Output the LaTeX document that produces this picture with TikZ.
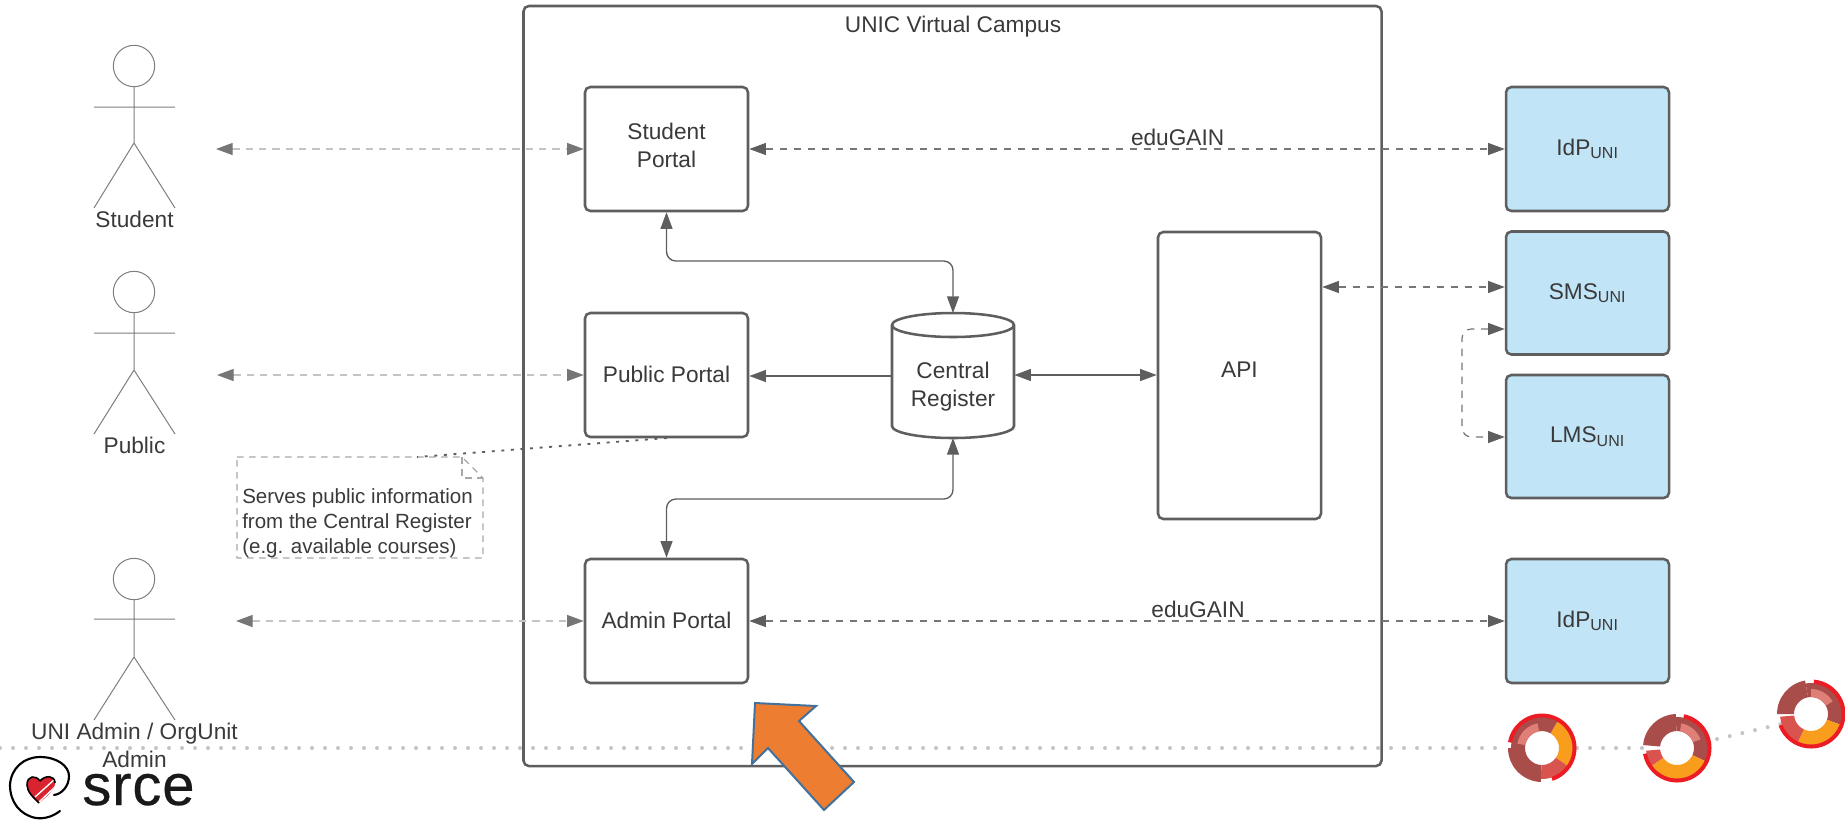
\documentclass[tikz,border=0pt]{standalone}
\usepackage{fontspec}
\setmainfont{Liberation Sans}
\usetikzlibrary{arrows.meta,positioning,calc}
\definecolor{ln}{HTML}{5E5E5E}
\definecolor{tx}{HTML}{3A3A3A}
\definecolor{lb}{HTML}{C1E4F7}
\definecolor{ga}{HTML}{C4C4C4}
\definecolor{da}{HTML}{A94D4B}
\definecolor{me}{HTML}{D9534F}
\definecolor{sa}{HTML}{E07F78}
\definecolor{og}{HTML}{F99D1C}
\definecolor{rd}{HTML}{EC1C24}
\definecolor{oa}{RGB}{237,125,49}
\definecolor{ob}{RGB}{65,113,156}
\definecolor{hr}{HTML}{D9232E}
\newcommand{\px}[1]{\fontsize{#1}{#1}\selectfont}
\newcommand{\seg}[5]{\fill[#5] (#1:#4) arc[start angle=#1,end angle=#2,radius=#4] -- (#2:#3) arc[start angle=#2,end angle=#1,radius=#3] -- cycle;}
\newcommand{\two}[3]{\raisebox{#1}{\begin{tabular}{@{}c@{}}#2\\[3.5pt]#3\end{tabular}}}
\tikzset{
  x=0.75pt,y=-0.75pt,
  every node/.style={text=tx,font=\px{17}},
  pbox/.style={draw=ln,line width=1.9pt,rounded corners=4pt,fill=white,align=center,inner sep=0pt},
  ubox/.style={pbox,fill=lb},
  tip/.tip={Triangle[length=12.5pt,width=9pt]},
  bi/.style={tip-tip,draw=ln,line width=1pt,rounded corners=7pt},
  one/.style={-tip,draw=ln,line width=1pt},
  da1/.style={bi,draw=ln!85,line width=.9pt,dash pattern=on 5.5pt off 5pt,{Triangle[length=12.5pt,width=9pt,ln]}-{Triangle[length=12.5pt,width=9pt,ln]}},
  da2/.style={draw=ga,line width=1pt,dash pattern=on 5.5pt off 4.5pt,{Triangle[length=12.5pt,width=9pt,ln!85]}-{Triangle[length=12.5pt,width=9pt,ln!85]}},
  actor/.style={draw=ln!80,line width=0.75pt},
  dots/.style={draw=ga,line width=3pt,line cap=round,dash pattern=on 0pt off 9.75pt},
  nt/.style={draw=ga!85!black,line width=1pt,dash pattern=on 5pt off 4pt},
}
\newcommand{\boxat}[7][pbox]{\node[#1,minimum width=#6*0.75pt,minimum height=#7*0.75pt] (#2) at (#4,#5) {#3};}
\begin{document}
\begin{tikzpicture}
\useasboundingbox (0,0) rectangle (1845,819);
% dotted line
\coordinate (d0) at (0,748);
\coordinate (d1) at (1507,748);
\coordinate (d2) at (1577,748);
\coordinate (d3) at (1642,748);
\coordinate (d4) at (1717,739);
\coordinate (d5) at (1781,724);
\draw[dots] (d0) -- (d1);
\draw[dots] (d2) -- (d3);
\draw[dots] (d4) -- (d5);
% campus
\node[draw=ln,line width=1.9pt,rounded corners=4pt,minimum width=643.5pt,minimum height=570pt,inner sep=0pt] (campus) at (952.5,386) {};
\node (ctitle) at (953,27) {UNIC Virtual Campus};
% portals
\boxat{sp}{\two{6pt}{Student}{Portal}}{666.5}{149}{163}{124}
\boxat{pp}{\raisebox{1.5pt}{Public Portal}}{666.5}{375}{163}{124}
\boxat{ap}{\raisebox{1.5pt}{Admin Portal}}{666.5}{621}{163}{124}
\boxat{api}{\raisebox{9pt}{API}}{1239.5}{375.5}{163}{287}
\boxat[ubox]{idp1}{IdP\textsubscript{\px{12}UNI}}{1587.5}{149}{163}{124}
\boxat[ubox]{sms}{SMS\textsubscript{\px{12}UNI}}{1587.5}{293}{163}{123}
\boxat[ubox]{lms}{LMS\textsubscript{\px{12}UNI}}{1587.5}{436.5}{163}{123}
\boxat[ubox]{idp2}{IdP\textsubscript{\px{12}UNI}}{1587.5}{621}{163}{124}
% cylinder
\draw[ln,line width=1.9pt,fill=white] (892,325) -- (892,426) arc[start angle=180,end angle=360,x radius=45.75pt,y radius=9pt] -- (1014,325) arc[start angle=0,end angle=180,x radius=45.75pt,y radius=9pt] -- cycle;
\draw[ln,line width=1.9pt] (892,325) arc[start angle=180,end angle=360,x radius=45.75pt,y radius=9pt];
\node[align=center,inner sep=0pt,minimum width=91.5pt,minimum height=93pt] (cr) at (953,387.5) {\two{0pt}{Central}{Register}};
% actors' endpoints
\coordinate (as) at (216,149);
\coordinate (ap0) at (217,375);
\coordinate (aa) at (236,621);
\draw[da2] (as) -- (sp.west);
\draw[da2] (ap0) -- (pp.west);
\draw[da2] (aa) -- (ap.west);
\draw[da1] (sp.east) -- node[above=-1.5pt,pos=0.567] (e1) {eduGAIN} (idp1.west);
\draw[da1] (ap.east) -- node[above=-1.5pt,pos=0.594] (e2) {eduGAIN} (idp2.west);
\draw[da1] (api.east |- 0,287) -- (sms.west |- 0,287);
\draw[da1] (sms.west |- 0,329) -- (1462,329) -- (1462,437) -- (lms.west |- 0,437);
\draw[one] (cr.west |- 0,376) -- (pp.east |- 0,376);
\draw[bi] (cr.east |- 0,375) -- (api.west |- 0,375);
\draw[bi] (sp.south) -- (666.5,261) -- (953,261) -- (953,313);
\draw[bi] (ap.north) -- (666.5,499) -- (953,499) -- (953,438);
% actors
\foreach \n/\hy/\ay/\by/\ly in {a/66/107/143/208, b/292/333/370/434, c/579/619/657/720}{
  \draw[actor,fill=white] (134,\hy) circle[radius=15.5pt];
  \draw[actor] (134,\hy+20.5) -- (134,\by) (94,\ay) -- (175,\ay) (94,\ly) -- (134,\by) -- (175,\ly);
}
\node (ls) at (134.5,219) {Student};
\node (lp) at (134.5,445) {Public};
\node[align=center] (la) at (134.5,734) {UNI Admin / OrgUnit};
\node (la2) at (134.5,759) {Admin};
% note
\draw[nt] (237,457) -- (462,457) -- (483,478) -- (483,558) -- (237,558) -- cycle;
\draw[nt] (462,457) -- (462,478) -- (483,478);
\node[align=left,anchor=north west,inner sep=0pt,font=\px{15.4}] (note) at (242,488) {Serves public information\\[3.6pt]from the Central Register\\[3.6pt](e.g. available courses)};
\coordinate (n1) at (417,457);
\coordinate (n2) at (667,438);
\draw[ln,line width=1.4pt,dash pattern=on 2.2pt off 5pt] (n2) -- (n1);
% donuts
\begin{scope}[shift={(1542,748)},x=.75pt,y=.75pt]
\seg{60}{-35}{17}{31}{og}
\seg{60}{180}{17}{31}{da}
\seg{100}{170}{17}{25}{sa}
\seg{180}{268}{17}{34}{da}
\seg{268}{325}{17}{31}{me}
\seg{170}{-72}{30.5}{34.5}{rd}
\end{scope}
\begin{scope}[shift={(1677,748)},x=.75pt,y=.75pt]
\seg{92}{175}{17}{34}{da}
\seg{92}{-25}{17}{31}{da}
\seg{80}{20}{17}{25}{sa}
\seg{-25}{-145}{17}{31}{og}
\seg{-145}{-175}{17}{31}{me}
\seg{78}{-170}{30.5}{34.5}{rd}
\end{scope}
\begin{scope}[shift={(1811,714)},x=.75pt,y=.75pt]
\seg{100}{180}{17}{34}{da}
\seg{100}{-20}{17}{31}{da}
\seg{90}{30}{17}{25}{sa}
\seg{-20}{-115}{17}{31}{og}
\seg{-115}{-175}{17}{31}{me}
\seg{85}{-160}{30.5}{34.5}{rd}
\end{scope}
% orange arrow
\draw[draw=ob,line width=1.5pt,fill=oa,line join=miter]
 (755,703) -- (816,706) -- (799,721) -- (854,782) -- (824,810) -- (768,748) -- (752,764) -- cycle;
% logo
\node[anchor=base,inner sep=0pt,text=black!90,font=\px{43.5}\addfontfeatures{LetterSpace=1.5,FakeBold=0.4}] (srce) at (138.5,805) {srce};
\draw[black,line width=1.6pt,line cap=round] (60,811) .. controls (52,817) and (44,819) .. (36,818) .. controls (20,815) and (10,802) .. (10,785) .. controls (11,768) and (24,757) .. (40,757) .. controls (57,757) and (69,766) .. (69,776) .. controls (69,786) and (62,794) .. (54,795);
\begin{scope}
\path[clip] (40,781) .. controls (36,775) and (27,775) .. (27,785) .. controls (27,792) and (34,798) .. (39,803) .. controls (45,798) and (55,790) .. (55,783) .. controls (55,775) and (45,775) .. (40,781) -- cycle;
\fill[hr] (20,770) rectangle (60,810);
\draw[white,line width=1pt] (35,797) -- (55,779) (38,803) -- (57,785);
\end{scope}
\draw[black,line width=1.2pt,line join=round] (40,781) .. controls (36,775) and (27,775) .. (27,785) .. controls (27,792) and (34,798) .. (39,803);
\draw[black,line width=1.2pt] (40,781) .. controls (45,775) and (55,775) .. (55,783);
\end{tikzpicture}
\end{document}
